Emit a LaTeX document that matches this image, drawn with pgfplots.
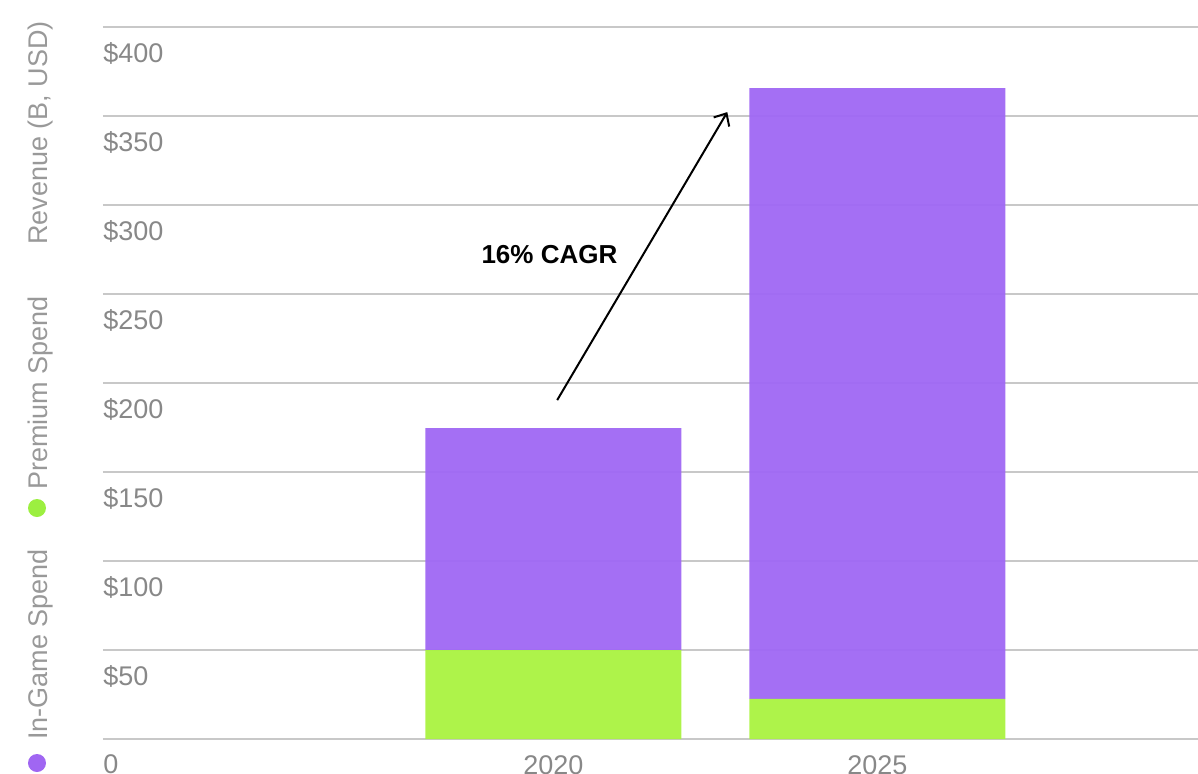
\documentclass[border=0pt]{standalone}
\usepackage{pgfplots}
\pgfplotsset{compat=1.18}
\usepackage{fontspec}
\setmainfont{Liberation Sans}
\usetikzlibrary{arrows.meta}
\definecolor{ingame}{HTML}{A069F4}
\definecolor{premium}{HTML}{ABF343}
\definecolor{dotpurple}{HTML}{A066F2}
\definecolor{dotgreen}{HTML}{9CEF40}
\definecolor{gridgray}{HTML}{C8C8C8}
\definecolor{textgray}{HTML}{888888}
\definecolor{leggray}{HTML}{999999}

\begin{document}
\begin{tikzpicture}
\path[use as bounding box] (-51.5pt,-17pt) rectangle (547.5pt,369.5pt);
\begin{axis}[
  at={(0,0)}, anchor=south west,
  scale only axis, width=547.5pt, height=356pt,
  ybar stacked, bar width=128pt,
  xmin=-1.39, xmax=1.99, ymin=0, ymax=400,
  xtick={0,1}, xticklabels={2020,2025},
  ytick={0,50,...,400},
  yticklabels={0,\$50,\$100,\$150,\$200,\$250,\$300,\$350,\$400},
  ymajorgrids, major grid style={gridgray, line width=0.8pt},
  axis line style={draw=none},
  major tick length=0pt,
  tick label style={textgray, font=\fontsize{13.5}{16}\selectfont},
  yticklabel style={anchor=north west, inner sep=0pt, xshift=0pt, yshift=-7.5pt},
  xticklabel style={anchor=north, inner sep=0pt, yshift=-8pt},
  clip=false,
]
\addplot[fill=premium, draw=none, fill opacity=0.96] coordinates {(0,50) (1,22.5)};
\addplot[fill=ingame, draw=none, fill opacity=0.96] coordinates {(0,124.7) (1,343.2)};
\draw[line width=1pt, -{Straight Barb[length=5pt,width=9pt]}] (axis cs:0.012,190.4) -- (axis cs:0.537,352.2);
\node[font=\fontsize{13}{15}\selectfont\bfseries] at (axis cs:-0.012,271.9) {16\% CAGR};
\end{axis}
\fill[dotpurple] (-33pt,-12pt) circle (4.5pt);
\node[rotate=90, anchor=base west, inner sep=0pt, leggray, font=\fontsize{13.5}{16}\selectfont] at (-27.5pt,-0.5pt) {In-Game Spend};
\fill[dotgreen] (-33pt,115.5pt) circle (4.5pt);
\node[rotate=90, anchor=base west, inner sep=0pt, leggray, font=\fontsize{13.5}{16}\selectfont] at (-27.5pt,124.5pt) {Premium Spend};
\node[rotate=90, anchor=base west, inner sep=0pt, leggray, font=\fontsize{13.5}{16}\selectfont] at (-27.5pt,247pt) {Revenue (B, USD)};
\end{tikzpicture}
\end{document}
